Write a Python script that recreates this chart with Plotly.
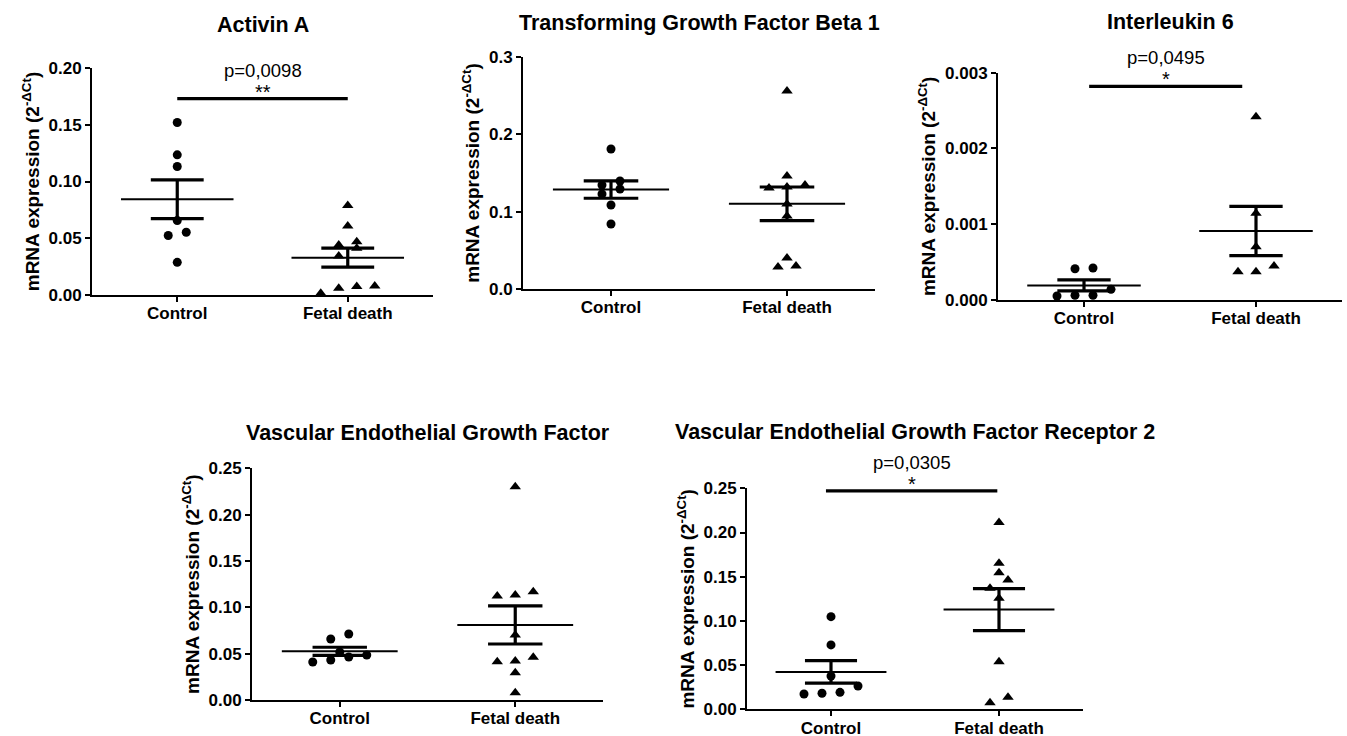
import numpy as np
import plotly.graph_objects as go

# ---------------- data ----------------
categories = ["Control", "Fetal death"]

activin_control = [0.152, 0.1235, 0.1132, 0.0656, 0.0553, 0.0524, 0.0288]
activin_fetal = [0.0788, 0.0609, 0.0470, 0.0441, 0.0412, 0.0344, 0.0079, 0.0074, 0.0059, 0.0015]

tgfb1_control = [0.181, 0.1397, 0.1345, 0.1293, 0.1229, 0.1086, 0.0841]
tgfb1_fetal = [0.256, 0.1461, 0.1345, 0.132, 0.1306, 0.1099, 0.0944, 0.0401, 0.0297, 0.0284]

il6_control = [0.000422, 0.000413, 0.000141, 0.000062, 0.000062, 0.000053]
il6_fetal = [0.00242, 0.001144, 0.000704, 0.000449, 0.000374, 0.000374]

vegf_control = [0.0712, 0.0658, 0.0518, 0.0486, 0.0464, 0.0432, 0.0410]
vegf_fetal = [0.2302, 0.1169, 0.1133, 0.1122, 0.0701, 0.0460, 0.0420, 0.0414, 0.0295, 0.0079]

vegfr2_control = [0.1048, 0.0728, 0.0377, 0.0264, 0.0192, 0.0181, 0.0173]
vegfr2_fetal = [0.2112, 0.1652, 0.1546, 0.1463, 0.1369, 0.1256, 0.0539, 0.0136, 0.0075]

titles = [
    "Activin A",
    "Transforming Growth Factor Beta 1",
    "Interleukin 6",
    "Vascular Endothelial Growth Factor",
    "Vascular Endothelial Growth Factor Receptor 2",
]
y_max = [0.20, 0.3, 0.003, 0.25, 0.25]
y_step = [0.05, 0.1, 0.001, 0.05, 0.05]
y_format = [".2f", ".1f", ".3f", ".2f", ".2f"]
p_labels = ["p=0,0098", "", "p=0,0495", "", "p=0,0305"]
star_labels = ["**", "", "*", "", "*"]
bracket_y = [0.173, None, 0.00282, None, 0.247]
y_title = "mRNA expression (2<sup>-ΔCt</sup>)"

groups = [
    (activin_control, activin_fetal),
    (tgfb1_control, tgfb1_fetal),
    (il6_control, il6_fetal),
    (vegf_control, vegf_fetal),
    (vegfr2_control, vegfr2_fetal),
]

# ---------------- layout geometry (pixels) ----------------
W, H = 1347, 736
# (left, right, top, bottom) of each plotting area in pixels
boxes = [
    (92, 433, 68, 295),
    (523, 875, 57, 289),
    (998, 1342, 72.7, 300),
    (252, 603, 468.3, 700),
    (747, 1083, 488.3, 709.3),
]
title_y_px = [25, 23, 22, 433, 432]
# horizontal extent of the significance bracket, in category units
bracket_span = [(0.0, 1.0), None, (0.03, 0.92), None, (-0.03, 0.99)]

FONT = "Liberation Sans, Arial, Helvetica, sans-serif"
X_RANGE = [-0.5, 1.5]


def swarm(values, px_per_unit, step, thresh=8.5):
    vals = np.asarray(values, dtype=float)
    order = np.argsort(vals)
    offsets = np.zeros(len(vals))
    rows, current = [], []
    for idx in order:
        if current and (vals[idx] - vals[current[0]]) * px_per_unit >= thresh:
            rows.append(current)
            current = []
        current.append(idx)
    if current:
        rows.append(current)
    for row in rows:
        n = len(row)
        for k, idx in enumerate(row):
            offsets[idx] = (k - (n - 1) / 2) * step
    return offsets


fig = go.Figure()
layout = dict(
    width=W, height=H, margin=dict(l=0, r=0, t=0, b=0, autoexpand=False),
    paper_bgcolor="white", plot_bgcolor="white", showlegend=False,
    font=dict(family=FONT, color="black"),
)
annotations = []

for i, (ctrl, fetal) in enumerate(groups):
    n = i + 1
    xa = "x" if n == 1 else f"x{n}"
    ya = "y" if n == 1 else f"y{n}"
    left, right, top, bottom = boxes[i]
    px_per_cat = (right - left) / (X_RANGE[1] - X_RANGE[0])
    px_per_unit = (bottom - top) / y_max[i]
    step = 18.0 / px_per_cat

    for g, (vals, sym, msize) in enumerate([(ctrl, "circle", 9), (fetal, "triangle-up", 10)]):
        offs = swarm(vals, px_per_unit, step)
        fig.add_trace(go.Scatter(
            x=g + offs, y=vals, mode="markers", xaxis=xa, yaxis=ya,
            marker=dict(symbol=sym, size=msize, color="black", line=dict(width=0)),
            cliponaxis=False, hoverinfo="y",
        ))
        arr = np.asarray(vals, dtype=float)
        mean = arr.mean()
        sem = arr.std(ddof=1) / np.sqrt(len(arr))
        # mean line
        fig.add_trace(go.Scatter(
            x=[g - 0.33, g + 0.33], y=[mean, mean], mode="lines",
            xaxis=xa, yaxis=ya, line=dict(color="black", width=2),
            cliponaxis=False, hoverinfo="skip",
        ))
        # SEM bars
        for yy in (mean - sem, mean + sem):
            fig.add_trace(go.Scatter(
                x=[g - 0.155, g + 0.155], y=[yy, yy], mode="lines",
                xaxis=xa, yaxis=ya, line=dict(color="black", width=3.2),
                cliponaxis=False, hoverinfo="skip",
            ))
        fig.add_trace(go.Scatter(
            x=[g, g], y=[mean - sem, mean + sem], mode="lines",
            xaxis=xa, yaxis=ya, line=dict(color="black", width=3.2),
            cliponaxis=False, hoverinfo="skip",
        ))

    # significance bracket
    if bracket_y[i] is not None:
        x0, x1 = bracket_span[i]
        fig.add_trace(go.Scatter(
            x=[x0, x1], y=[bracket_y[i], bracket_y[i]], mode="lines",
            xaxis=xa, yaxis=ya, line=dict(color="black", width=3.2),
            cliponaxis=False, hoverinfo="skip",
        ))
        annotations.append(dict(
            x=(x0 + x1) / 2, y=bracket_y[i], xref=xa, yref=ya, text=p_labels[i],
            showarrow=False, yanchor="bottom", yshift=16,
            font=dict(family=FONT, size=18.5, color="black"),
        ))
        annotations.append(dict(
            x=(x0 + x1) / 2, y=bracket_y[i], xref=xa, yref=ya, text=star_labels[i],
            showarrow=False, yanchor="bottom", yshift=-6,
            font=dict(family=FONT, size=20, color="black"),
        ))

    # panel title
    annotations.append(dict(
        x=(left + right) / 2 / W, y=1 - title_y_px[i] / H, xref="paper", yref="paper",
        text=f"<b>{titles[i]}</b>", showarrow=False, xanchor="center", yanchor="middle",
        font=dict(family=FONT, size=21.5, color="black"),
    ))

    ticks = list(np.round(np.arange(0, y_max[i] + y_step[i] / 2, y_step[i]), 6))
    axis_common = dict(
        showline=True, linecolor="black", linewidth=2, ticks="outside",
        ticklen=5, tickwidth=2, tickcolor="black", showgrid=False, zeroline=False,
        automargin=False,
        tickfont=dict(family=FONT, size=17, color="black", weight="bold"),
    )
    layout["xaxis" if n == 1 else f"xaxis{n}"] = dict(
        domain=[left / W, right / W], anchor=ya, range=X_RANGE,
        tickvals=[0, 1], ticktext=categories, fixedrange=True,
        ticklabelstandoff=-3, **axis_common,
    )
    layout["yaxis" if n == 1 else f"yaxis{n}"] = dict(
        domain=[1 - bottom / H, 1 - top / H], anchor=xa, range=[0, y_max[i]],
        tickvals=ticks, tickformat=y_format[i], fixedrange=True,
        title=dict(text=y_title, standoff=4,
                   font=dict(family=FONT, size=19, color="black", weight="bold")),
        **axis_common,
    )

layout["annotations"] = annotations
fig.update_layout(**layout)
fig.write_html(
    "out.html",
    config={"displayModeBar": False},
    post_script="document.body.style.margin='0';document.body.style.padding='0';",
)
